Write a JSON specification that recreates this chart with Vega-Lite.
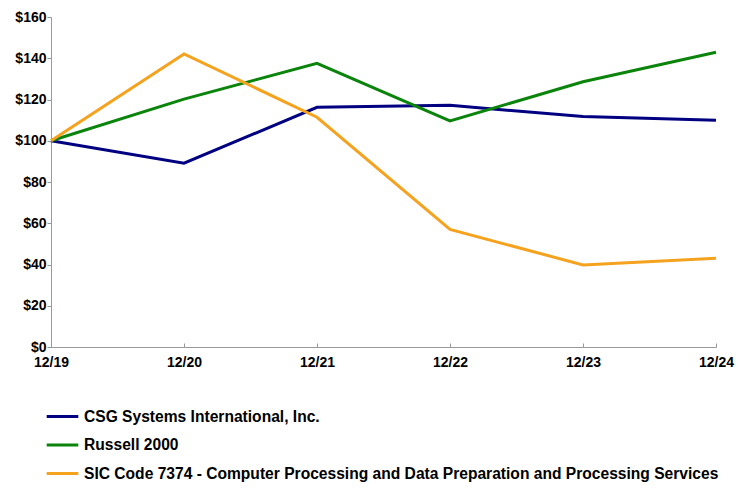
{
  "$schema": "https://vega.github.io/schema/vega-lite/v6.json",
  "width": 665,
  "height": 330,
  "autosize": {"type": "none"},
  "padding": {"left": 51, "top": 17, "right": 36, "bottom": 148},
  "background": "white",
  "config": {
    "view": {"stroke": null},
    "font": "Liberation Sans"
  },
  "data": {
    "values": [
      {"period": "12/19", "series": "CSG Systems International, Inc.", "value": 100},
      {"period": "12/20", "series": "CSG Systems International, Inc.", "value": 89.1},
      {"period": "12/21", "series": "CSG Systems International, Inc.", "value": 116.2},
      {"period": "12/22", "series": "CSG Systems International, Inc.", "value": 117.2},
      {"period": "12/23", "series": "CSG Systems International, Inc.", "value": 111.7},
      {"period": "12/24", "series": "CSG Systems International, Inc.", "value": 109.9},
      {"period": "12/19", "series": "Russell 2000", "value": 100},
      {"period": "12/20", "series": "Russell 2000", "value": 120.2},
      {"period": "12/21", "series": "Russell 2000", "value": 137.5},
      {"period": "12/22", "series": "Russell 2000", "value": 109.6},
      {"period": "12/23", "series": "Russell 2000", "value": 128.6},
      {"period": "12/24", "series": "Russell 2000", "value": 142.9},
      {"period": "12/19", "series": "SIC Code 7374 - Computer Processing and Data Preparation and Processing Services", "value": 100},
      {"period": "12/20", "series": "SIC Code 7374 - Computer Processing and Data Preparation and Processing Services", "value": 142.1},
      {"period": "12/21", "series": "SIC Code 7374 - Computer Processing and Data Preparation and Processing Services", "value": 111.4},
      {"period": "12/22", "series": "SIC Code 7374 - Computer Processing and Data Preparation and Processing Services", "value": 57.0},
      {"period": "12/23", "series": "SIC Code 7374 - Computer Processing and Data Preparation and Processing Services", "value": 39.8},
      {"period": "12/24", "series": "SIC Code 7374 - Computer Processing and Data Preparation and Processing Services", "value": 43.0}
    ]
  },
  "mark": {"type": "line", "strokeWidth": 3},
  "encoding": {
    "x": {
      "field": "period",
      "type": "ordinal",
      "sort": null,
      "scale": {"type": "point", "padding": 0},
      "axis": {
        "title": null,
        "labelAngle": 0,
        "labelFont": "Liberation Sans",
        "labelFontSize": 14,
        "labelFontWeight": "bold",
        "labelColor": "black",
        "domainColor": "#999999",
        "tickColor": "#999999",
        "tickSize": -4,
        "labelPadding": 12,
        "grid": false
      }
    },
    "y": {
      "field": "value",
      "type": "quantitative",
      "scale": {"domain": [0, 160], "nice": false},
      "axis": {
        "title": null,
        "values": [0, 20, 40, 60, 80, 100, 120, 140, 160],
        "labelExpr": "'$' + datum.value",
        "labelFont": "Liberation Sans",
        "labelFontSize": 14,
        "labelFontWeight": "bold",
        "labelColor": "black",
        "domainColor": "#999999",
        "tickColor": "#999999",
        "tickSize": 4,
        "labelPadding": 1,
        "grid": false
      }
    },
    "color": {
      "field": "series",
      "type": "nominal",
      "scale": {
        "domain": ["CSG Systems International, Inc.", "Russell 2000", "SIC Code 7374 - Computer Processing and Data Preparation and Processing Services"],
        "range": ["#000080", "#0B840B", "#F5A31E"]
      },
      "legend": {
        "title": null,
        "orient": "none",
        "legendX": -6,
        "legendY": 382,
        "symbolType": "stroke",
        "symbolSize": 1000,
        "symbolStrokeWidth": 3,
        "labelFont": "Liberation Sans",
        "labelFontSize": 15.6,
        "labelFontWeight": "bold",
        "labelColor": "black",
        "labelOffset": 4,
        "labelLimit": 800,
        "rowPadding": 1.5
      }
    }
  }
}
